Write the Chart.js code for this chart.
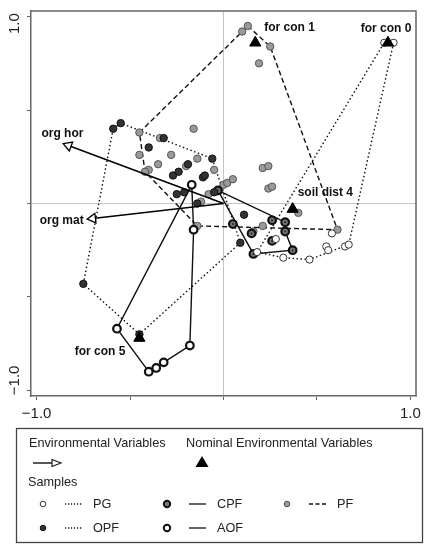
<!DOCTYPE html>
<html>
<head>
<meta charset="utf-8">
<script src="https://cdn.jsdelivr.net/npm/chart.js@4.4.1/dist/chart.umd.min.js"></script>
<style>
  body { margin: 0; background: #fff; }
  canvas { display: block; }
</style>
</head>
<body>
<canvas id="myChart" width="432" height="550"></canvas>
<script>
// sample scores (axis 1 = x, axis 2 = y), hull = order of envelope vertices
const pgX = [0.86, 0.91, 0.18, 0.32, 0.46, 0.55, 0.56, 0.65, 0.67, 0.58, 0.28];
const pgY = [0.86, 0.86, -0.26, -0.29, -0.30, -0.23, -0.25, -0.23, -0.22, -0.16, -0.19];
const pgHull = [2, 3, 4, 8, 1, 0, 2];

const opfX = [-0.59, -0.55, -0.32, -0.40, -0.27, -0.24, -0.19, -0.06, -0.11, -0.10, -0.25, -0.21, -0.05, -0.14, 0.11, 0.09, -0.45, -0.75];
const opfY = [0.40, 0.43, 0.35, 0.30, 0.15, 0.17, 0.21, 0.24, 0.14, 0.15, 0.05, 0.06, 0.06, 0.00, -0.06, -0.21, -0.70, -0.43];
const opfHull = [0, 1, 7, 15, 16, 17, 0];

const cpfX = [-0.03, 0.05, 0.15, 0.26, 0.33, 0.33, 0.26, 0.37, 0.16];
const cpfY = [0.07, -0.11, -0.16, -0.09, -0.10, -0.15, -0.20, -0.25, -0.27];
const cpfHull = [0, 4, 5, 7, 8, 0];

const aofX = [-0.17, -0.16, -0.57, -0.40, -0.36, -0.32, -0.18];
const aofY = [0.10, -0.14, -0.67, -0.90, -0.88, -0.85, -0.76];
const aofHull = [0, 2, 3, 4, 5, 6, 1, 0];

const pfX = [-0.45, -0.16, -0.34, -0.45, -0.28, -0.35, -0.40, -0.42, -0.20, -0.14, -0.05, -0.12, -0.08, -0.03, 0.00, 0.02, 0.05, 0.10, 0.13, 0.25, 0.19, 0.21, 0.24, 0.24, 0.26, 0.40, 0.61, 0.21, 0.16, -0.14];
const pfY = [0.38, 0.40, 0.35, 0.26, 0.26, 0.21, 0.18, 0.17, 0.20, 0.24, 0.18, 0.01, 0.05, 0.07, 0.10, 0.11, 0.13, 0.92, 0.95, 0.84, 0.75, 0.19, 0.20, 0.08, 0.09, -0.05, -0.14, -0.12, -0.15, -0.12];
const pfHull = [0, 17, 18, 19, 26, 29, 7, 0];

// environmental variables (arrows) and nominal variables (triangles)
const envLabels = ["org hor", "org mat"];
const envX = [-0.83, -0.70];
const envY = [0.31, -0.08];

const nomLabels = ["for con 1", "for con 0", "soil dist 4", "for con 5"];
const nomX = [0.17, 0.88, 0.37, -0.45];
const nomY = [0.86, 0.86, -0.03, -0.72];

// axis ticks
const tickValues = [-1, -0.5, 0, 0.5, 1];
const tickLabels = ["\u22121.0", "", "", "", "1.0"];

const FONT = "'Liberation Sans', Arial, sans-serif";

// label offsets in px from the mark: [dx, dy, align]
const nomLabelPos = [[9, -15, "left"], [-2, -14, "center"], [5, -16, "left"], [-14, 14, "right"]];
const envLabelPos = [[-6, -12, "center"], [-9, 2, "right"]];
// rotated y tick labels sit a little inside the end ticks
const yLabelShift = [-10, 0, 0, 0, 7];

const groups = [
  { name: "PG", x: pgX, y: pgY, hull: pgHull, fill: "#fff", border: "#333", bw: 1, r: 3.6, dash: [1.5, 2.5] },
  { name: "OPF", x: opfX, y: opfY, hull: opfHull, fill: "#333", border: "#111", bw: 1, r: 3.7, dash: [1.5, 2.5] },
  { name: "CPF", x: cpfX, y: cpfY, hull: cpfHull, fill: "#777", border: "#111", bw: 2.2, r: 3.8, dash: [] },
  { name: "AOF", x: aofX, y: aofY, hull: aofHull, fill: "#fff", border: "#111", bw: 2.2, r: 3.8, dash: [] },
  { name: "PF", x: pfX, y: pfY, hull: pfHull, fill: "#9a9a9a", border: "#555", bw: 1, r: 3.7, dash: [5, 3] }
];

function toPoints(xs, ys, idx) {
  const pts = [];
  if (!idx) {
    for (let i = 0; i < xs.length; i++) pts.push({ x: xs[i], y: ys[i] });
  } else {
    for (let i = 0; i < idx.length; i++) pts.push({ x: xs[idx[i]], y: ys[idx[i]] });
  }
  return pts;
}

function tickIndex(v) {
  for (let i = 0; i < tickValues.length; i++) {
    if (Math.abs(v - tickValues[i]) < 1e-6) return i;
  }
  return -1;
}

function headRotation(ctx) {
  const i = ctx.dataIndex;
  const xs = ctx.chart.scales.x, ys = ctx.chart.scales.y;
  const dx = xs.getPixelForValue(envX[i]) - xs.getPixelForValue(0);
  const dy = ys.getPixelForValue(envY[i]) - ys.getPixelForValue(0);
  return Math.atan2(dy, dx) * 180 / Math.PI + 90;
}

const datasets = [];

// nominal triangles on top
datasets.push({
  data: toPoints(nomX, nomY),
  pointStyle: "triangle",
  pointRadius: 6.5,
  backgroundColor: "#000",
  borderColor: "#000",
  borderWidth: 1,
  showLine: false,
  order: 0
});

// arrow heads and shafts
datasets.push({
  data: toPoints(envX, envY),
  pointStyle: "triangle",
  pointRadius: 5.5,
  rotation: headRotation,
  backgroundColor: "#fff",
  borderColor: "#000",
  borderWidth: 1.3,
  showLine: false,
  order: 1
});
for (let i = 0; i < envX.length; i++) {
  datasets.push({
    data: [{ x: 0, y: 0 }, { x: envX[i], y: envY[i] }],
    showLine: true,
    pointRadius: 0,
    borderColor: "#000",
    borderWidth: 1.5,
    order: 2
  });
}

// CPF centre dots
datasets.push({
  data: toPoints(cpfX, cpfY),
  pointRadius: 1,
  backgroundColor: "#222",
  borderWidth: 0,
  showLine: false,
  order: 3
});

for (let g = 0; g < groups.length; g++) {
  const gr = groups[g];
  datasets.push({
    label: gr.name,
    data: toPoints(gr.x, gr.y),
    pointRadius: gr.r,
    backgroundColor: gr.fill,
    borderColor: gr.border,
    borderWidth: gr.bw,
    showLine: false,
    order: 4
  });
  datasets.push({
    data: toPoints(gr.x, gr.y, gr.hull),
    showLine: true,
    pointRadius: 0,
    borderColor: "#111",
    borderWidth: 1.4,
    borderDash: gr.dash,
    order: 5
  });
}

const framePlugin = {
  id: "frame",
  beforeDatasetsDraw(chart) {
    const a = chart.chartArea;
    const ctx = chart.ctx;
    ctx.save();
    ctx.strokeStyle = "#666";
    ctx.lineWidth = 1.5;
    ctx.beginPath();
    ctx.moveTo(a.left, a.top);
    ctx.lineTo(a.right, a.top);
    ctx.lineTo(a.right, a.bottom);
    ctx.stroke();
    ctx.restore();
  },
  afterDraw(chart) {
    // vertical tick labels of the y axis
    const ctx = chart.ctx;
    const ys = chart.scales.y;
    ctx.save();
    ctx.font = "15px " + FONT;
    ctx.fillStyle = "#222";
    ctx.textAlign = "center";
    ctx.textBaseline = "middle";
    for (let i = 0; i < tickValues.length; i++) {
      if (!tickLabels[i]) continue;
      ctx.save();
      ctx.translate(15, ys.getPixelForValue(tickValues[i]) + yLabelShift[i]);
      ctx.rotate(-Math.PI / 2);
      ctx.fillText(tickLabels[i], 0, 0);
      ctx.restore();
    }
    ctx.restore();
  }
};

const labelPlugin = {
  id: "labels",
  afterDatasetsDraw(chart) {
    const ctx = chart.ctx;
    const xs = chart.scales.x, ys = chart.scales.y;
    ctx.save();
    ctx.font = "bold 12px " + FONT;
    ctx.fillStyle = "#111";
    ctx.textBaseline = "middle";
    for (let i = 0; i < nomLabels.length; i++) {
      ctx.textAlign = nomLabelPos[i][2];
      ctx.fillText(nomLabels[i], xs.getPixelForValue(nomX[i]) + nomLabelPos[i][0], ys.getPixelForValue(nomY[i]) + nomLabelPos[i][1]);
    }
    for (let i = 0; i < envLabels.length; i++) {
      ctx.textAlign = envLabelPos[i][2];
      ctx.fillText(envLabels[i], xs.getPixelForValue(envX[i]) + envLabelPos[i][0], ys.getPixelForValue(envY[i]) + envLabelPos[i][1]);
    }
    ctx.restore();
  }
};

function legendDot(ctx, x, y, gr) {
  ctx.beginPath();
  ctx.arc(x, y, gr.bw > 2 ? 3.2 : 2.8, 0, Math.PI * 2);
  ctx.fillStyle = gr.fill;
  ctx.fill();
  ctx.lineWidth = gr.bw > 2 ? 2 : 1;
  ctx.strokeStyle = gr.border;
  ctx.stroke();
}

function legendLine(ctx, x1, x2, y, dash) {
  ctx.beginPath();
  ctx.setLineDash(dash);
  ctx.lineWidth = 1.3;
  ctx.strokeStyle = "#111";
  ctx.moveTo(x1, y);
  ctx.lineTo(x2, y);
  ctx.stroke();
  ctx.setLineDash([]);
}

const legendPlugin = {
  id: "boxLegend",
  afterDraw(chart) {
    const ctx = chart.ctx;
    ctx.save();
    ctx.strokeStyle = "#444";
    ctx.lineWidth = 1.3;
    ctx.strokeRect(16.5, 428.5, 406, 114);

    ctx.font = "12.7px " + FONT;
    ctx.fillStyle = "#222";
    ctx.textBaseline = "middle";
    ctx.textAlign = "left";
    ctx.fillText("Environmental Variables", 29, 443);
    ctx.fillText("Nominal Environmental Variables", 186, 443);
    ctx.fillText("Samples", 28, 482);

    // arrow symbol
    ctx.beginPath();
    ctx.lineWidth = 1.4;
    ctx.strokeStyle = "#111";
    ctx.moveTo(33, 463);
    ctx.lineTo(52, 463);
    ctx.stroke();
    ctx.beginPath();
    ctx.moveTo(61, 463);
    ctx.lineTo(52, 459.5);
    ctx.lineTo(52, 466.5);
    ctx.closePath();
    ctx.fillStyle = "#fff";
    ctx.fill();
    ctx.lineWidth = 1.1;
    ctx.stroke();

    // triangle symbol
    ctx.beginPath();
    ctx.moveTo(202, 456);
    ctx.lineTo(208.5, 467);
    ctx.lineTo(195.5, 467);
    ctx.closePath();
    ctx.fillStyle = "#000";
    ctx.fill();

    const cols = [43, 167, 287];
    const rows = [504, 528];
    const place = [[0, 0], [1, 0], [0, 1], [1, 1], [0, 2]];
    for (let g = 0; g < groups.length; g++) {
      const gr = groups[g];
      const cx = cols[place[g][1]];
      const cy = rows[place[g][0]];
      legendDot(ctx, cx, cy, gr);
      legendLine(ctx, cx + 22, cx + 39, cy, gr.dash.length ? (gr.dash[0] > 2 ? [4, 2.5] : [1.2, 1.8]) : []);
      ctx.fillStyle = "#222";
      ctx.fillText(gr.name, cx + 50, cy);
    }
    ctx.restore();
  }
};

function axisOptions(isY) {
  return {
    type: "linear",
    min: -1.03,
    max: 1.03,
    afterFit: function (scale) {
      if (isY) scale.width = 31; else scale.height = 30;
    },
    ticks: {
      display: !isY,
      stepSize: 0.5,
      includeBounds: false,
      autoSkip: false,
      maxRotation: 0,
      padding: 5,
      color: "#222",
      font: { family: FONT, size: 15 },
      callback: function (v) {
        const i = tickIndex(v);
        return i < 0 ? "" : tickLabels[i];
      }
    },
    grid: {
      color: function (c) { return c.tick && c.tick.value === 0 ? "#c4c4c4" : "rgba(0,0,0,0)"; },
      tickColor: "#666",
      tickLength: 4,
      lineWidth: 1
    },
    border: { display: true, color: "#666", width: 1.5 }
  };
}

new Chart(document.getElementById("myChart"), {
  type: "scatter",
  data: { datasets: datasets },
  options: {
    responsive: false,
    animation: false,
    layout: { padding: { left: 0, top: 11, right: 16, bottom: 124 } },
    plugins: { legend: { display: false }, tooltip: { enabled: false } },
    scales: { x: axisOptions(false), y: axisOptions(true) }
  },
  plugins: [framePlugin, labelPlugin, legendPlugin]
});
</script>
</body>
</html>
